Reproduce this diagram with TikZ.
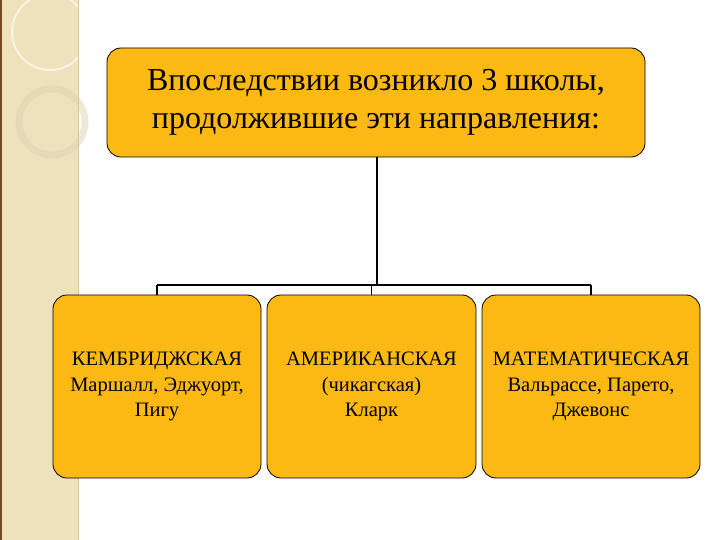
\documentclass[tikz,border=0pt]{standalone}
\usepackage{fontspec}
\setmainfont{Liberation Serif}
\definecolor{boxfill}{HTML}{FDB913}
\definecolor{strip}{HTML}{EEE2BC}
\begin{document}
\begin{tikzpicture}[x=1pt,y=-1pt,
  box/.style={draw=black, fill=boxfill, rounded corners=14pt, line width=0.8pt, align=center, inner sep=0pt},
  conn/.style={line width=1.3pt}]
\useasboundingbox (0,0) rectangle (720,540);
\fill[white] (0,0) rectangle (720,540);
\fill[strip] (0,0) rectangle (78,540);
\draw[white, line width=2pt, opacity=0.6] (50,32) circle (38);
\draw[strip!85!gray, line width=7pt, opacity=0.5] (52,122) circle (33);
\draw[strip!70!brown, line width=0.8pt] (78,0) -- (78,540);
\fill[brown!60!black] (0,0) rectangle (1.5,540);
\node[box, minimum width=538pt, minimum height=109pt, font=\fontsize{32}{38}\selectfont] (top) at (376,102.5) {Впоследствии возникло 3 школы,\\продолжившие эти направления:};
\node[box, minimum width=208pt, minimum height=183pt, font=\fontsize{20.5}{25.5}\selectfont] (a) at (157,386.5) {КЕМБРИДЖСКАЯ\\Маршалл, Эджуорт,\\Пигу};
\node[box, minimum width=209pt, minimum height=183pt, font=\fontsize{20.5}{25.5}\selectfont] (b) at (371.5,386.5) {АМЕРИКАНСКАЯ\\(чикагская)\\Кларк};
\node[box, minimum width=218pt, minimum height=183pt, font=\fontsize{20.5}{25.5}\selectfont] (c) at (591,386.5) {МАТЕМАТИЧЕСКАЯ\\Вальрассе, Парето,\\Джевонс};
\coordinate (j) at (377,285);
\draw[conn] (top.south -| j) -- (j);
\draw[conn] (a.north |- j) -- (c.north |- j);
\draw[conn] (a.north |- j) -- (a.north);
\draw[conn] (b.north |- j) -- (b.north);
\draw[conn] (c.north |- j) -- (c.north);
\end{tikzpicture}
\end{document}
